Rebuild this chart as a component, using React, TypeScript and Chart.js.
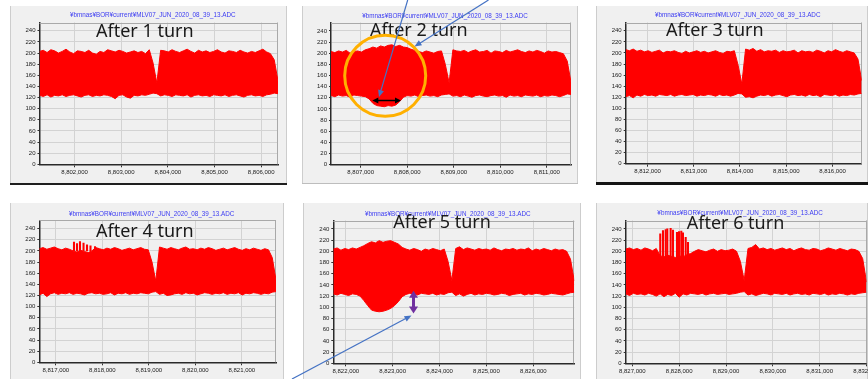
import React, { useEffect, useRef } from "react";
import { Chart, registerables } from "chart.js";

Chart.register(...registerables);

const FILE_TITLE = "¥bmnas¥BOR¥current¥MLV07_JUN_2020_08_39_13.ADC";
const TURN_LABELS = ["After 1 turn", "After 2 turn", "After 3 turn", "After 4 turn", "After 5 turn", "After 6 turn"];

// Sample-number window of each turn
const X_MIN = [8801250, 8806362, 8811529, 8816645, 8821733, 8826858];
const X_MAX = [8806360, 8811520, 8816631, 8821735, 8826874, 8832000];
const X_TICKS = [
  [8802000, 8803000, 8804000, 8805000, 8806000],
  [8807000, 8808000, 8809000, 8810000, 8811000],
  [8812000, 8813000, 8814000, 8815000, 8816000],
  [8817000, 8818000, 8819000, 8820000, 8821000],
  [8822000, 8823000, 8824000, 8825000, 8826000],
  [8827000, 8828000, 8829000, 8830000, 8831000, 8832000],
];
const Y_TICKS = [0, 20, 40, 60, 80, 100, 120, 140, 160, 180, 200, 220, 240];
const Y_MAX = 255;

// ADC counts: max / min of each of the 64 blocks that make up one turn
const turn1Max = [203, 205, 201, 206, 204, 200, 203, 207, 202, 199, 204, 203, 201, 205, 200, 198, 203, 201, 206, 204, 202, 205, 203, 200, 202, 204, 201, 203, 199, 206, 182, 146, 205, 204, 202, 206, 203, 201, 204, 207, 203, 200, 205, 202, 204, 201, 203, 206, 202, 200, 204, 203, 201, 205, 202, 200, 203, 201, 204, 207, 202, 199, 188, 150];
const turn1Min = [124, 122, 125, 121, 124, 123, 125, 122, 124, 125, 123, 121, 124, 125, 122, 124, 123, 125, 124, 122, 118, 124, 125, 121, 119, 124, 123, 125, 124, 126, 128, 127, 123, 125, 124, 122, 125, 124, 123, 125, 121, 124, 125, 123, 124, 122, 125, 124, 123, 125, 122, 124, 125, 123, 121, 124, 125, 123, 124, 122, 125, 126, 128, 127];

const turn2Max = [203, 201, 204, 202, 205, 200, 203, 204, 202, 206, 208, 211, 209, 213, 211, 214, 215, 212, 214, 211, 210, 207, 205, 203, 201, 204, 202, 200, 203, 204, 180, 147, 206, 204, 203, 205, 201, 204, 206, 202, 203, 205, 200, 204, 203, 201, 205, 202, 204, 206, 203, 201, 204, 202, 205, 203, 200, 204, 202, 203, 201, 199, 186, 148];
const turn2Min = [124, 122, 125, 123, 124, 121, 125, 124, 123, 122, 118, 110, 106, 105, 104, 106, 105, 107, 113, 121, 124, 123, 125, 122, 124, 125, 123, 124, 122, 125, 126, 127, 123, 124, 122, 125, 123, 121, 124, 125, 123, 122, 124, 125, 123, 124, 121, 125, 123, 124, 122, 125, 124, 123, 125, 122, 124, 123, 125, 124, 122, 124, 127, 126];

const turn3Max = [206, 204, 207, 203, 205, 202, 204, 201, 203, 205, 200, 203, 202, 204, 201, 199, 203, 200, 202, 204, 201, 203, 200, 202, 204, 201, 199, 203, 202, 204, 178, 144, 207, 205, 208, 203, 206, 202, 204, 203, 205, 201, 204, 202, 203, 205, 200, 204, 202, 203, 201, 205, 203, 200, 204, 202, 206, 203, 201, 204, 202, 200, 189, 150];
const turn3Min = [121, 123, 119, 124, 122, 125, 123, 124, 122, 125, 124, 123, 125, 122, 124, 125, 123, 124, 125, 122, 124, 123, 125, 124, 122, 125, 123, 124, 122, 124, 127, 126, 120, 121, 119, 122, 124, 123, 125, 122, 124, 125, 123, 121, 124, 125, 123, 124, 122, 125, 123, 124, 121, 125, 124, 123, 125, 122, 124, 123, 125, 124, 126, 127];

const turn4Max = [204, 206, 203, 205, 207, 204, 202, 205, 203, 200, 198, 201, 199, 197, 200, 206, 204, 202, 205, 203, 206, 204, 201, 203, 205, 202, 204, 206, 203, 202, 180, 146, 207, 205, 203, 206, 204, 202, 205, 207, 203, 204, 202, 205, 203, 206, 204, 201, 203, 205, 202, 204, 206, 203, 201, 204, 202, 205, 203, 201, 204, 202, 188, 148];
const turn4Min = [121, 124, 118, 123, 125, 122, 124, 123, 125, 122, 124, 123, 121, 124, 125, 123, 124, 122, 123, 125, 121, 124, 123, 125, 122, 124, 123, 125, 124, 123, 126, 127, 122, 124, 120, 121, 123, 124, 122, 125, 123, 124, 121, 123, 125, 124, 122, 124, 123, 125, 122, 124, 123, 125, 121, 124, 123, 125, 124, 122, 124, 123, 126, 127];

const turn5Max = [204, 206, 202, 205, 203, 206, 204, 207, 210, 214, 217, 215, 219, 216, 218, 219, 216, 213, 207, 204, 202, 205, 203, 200, 204, 202, 205, 203, 201, 204, 182, 148, 205, 208, 203, 206, 204, 202, 205, 203, 204, 202, 206, 203, 201, 204, 203, 205, 202, 204, 203, 206, 201, 204, 202, 205, 203, 201, 204, 202, 203, 200, 186, 147];
const turn5Min = [124, 122, 125, 123, 121, 124, 123, 120, 112, 103, 95, 93, 92, 93, 95, 98, 103, 110, 119, 123, 125, 124, 122, 125, 124, 123, 125, 122, 124, 123, 126, 127, 121, 124, 120, 123, 125, 122, 124, 123, 125, 124, 122, 123, 125, 124, 121, 123, 124, 125, 122, 124, 123, 125, 124, 122, 123, 125, 124, 123, 122, 124, 126, 127];

const turn6Max = [204, 206, 203, 205, 202, 206, 204, 201, 205, 192, 190, 193, 191, 189, 192, 190, 194, 196, 200, 203, 201, 199, 202, 204, 200, 203, 201, 202, 204, 200, 182, 148, 205, 207, 212, 204, 206, 203, 205, 202, 204, 206, 203, 205, 201, 204, 206, 203, 202, 205, 204, 201, 203, 206, 204, 202, 205, 203, 201, 204, 203, 200, 187, 145];
const turn6Min = [124, 121, 125, 123, 124, 122, 125, 123, 120, 124, 119, 123, 121, 125, 118, 124, 122, 125, 124, 123, 125, 122, 124, 125, 123, 124, 125, 123, 124, 125, 127, 128, 122, 124, 121, 123, 125, 124, 122, 125, 124, 123, 125, 122, 124, 125, 123, 124, 122, 125, 124, 123, 125, 122, 124, 123, 125, 124, 122, 124, 123, 125, 126, 127];

// Isolated tall excursions above the band
const turn4SpikeX = [8817391, 8817456, 8817520, 8817596, 8817671, 8817746, 8817843];
const turn4SpikeTop = [216, 213, 217, 214, 211, 209, 208];
const turn6SpikeX = [8827596, 8827654, 8827712, 8827746, 8827818, 8827868, 8827953, 8827996, 8828045, 8828081, 8828139, 8828188];
const turn6SpikeTop = [231, 237, 239, 240, 241, 238, 234, 235, 236, 233, 225, 216];
const SPIKE_BASE = [0, 0, 0, 200, 0, 186];

const TURN_MAX = [turn1Max, turn2Max, turn3Max, turn4Max, turn5Max, turn6Max];
const TURN_MIN = [turn1Min, turn2Min, turn3Min, turn4Min, turn5Min, turn6Min];
const TURN_SPIKE_X = [[], [], [], turn4SpikeX, [], turn6SpikeX];
const TURN_SPIKE_TOP = [[], [], [], turn4SpikeTop, [], turn6SpikeTop];

// ---- layout ----
const RED = "#ff0000";
const AXIS_W = 26;
const AXIS_H = 14;
const FONT = '"Liberation Sans", Arial, sans-serif';

type PanelBox = { left: number; top: number; width: number; height: number; plot: number[]; titleY: number };
const PANELS: PanelBox[] = [
  { left: 10, top: 6, width: 277, height: 177, plot: [39.5, 22.5, 278, 164.3], titleY: 15.7 },
  { left: 302, top: 6, width: 276, height: 177, plot: [331, 22.5, 571, 164.7], titleY: 16 },
  { left: 596, top: 6, width: 272, height: 176, plot: [625.7, 22.5, 861.7, 163.7], titleY: 15.7 },
  { left: 10, top: 203, width: 274, height: 176, plot: [39.3, 220.3, 276, 362.3], titleY: 214.3 },
  { left: 303, top: 203, width: 278, height: 176, plot: [333.3, 220.5, 574.3, 363.3], titleY: 214.3 },
  { left: 596, top: 203, width: 272, height: 176, plot: [625.7, 220.5, 866.5, 363.3], titleY: 213.3 },
];

const LABEL_POS = [
  [96, 37.3],
  [370, 35.7],
  [666, 35.7],
  [96, 237.3],
  [393.3, 228.3],
  [686.7, 229],
];

const plotFrame = {
  id: "plotFrame",
  beforeDatasetsDraw(chart: any) {
    const { ctx, chartArea: a } = chart;
    ctx.save();
    ctx.strokeStyle = "#a9a9a9";
    ctx.lineWidth = 1;
    ctx.beginPath();
    ctx.moveTo(a.left, Math.round(a.top) + 0.5);
    ctx.lineTo(a.right, Math.round(a.top) + 0.5);
    ctx.moveTo(Math.round(a.right) - 0.5, a.top);
    ctx.lineTo(Math.round(a.right) - 0.5, a.bottom);
    ctx.stroke();
    ctx.restore();
  },
};

const fileCaption = {
  id: "fileCaption",
  afterDraw(chart: any, _args: any, opts: any) {
    const { ctx, chartArea: a } = chart;
    ctx.save();
    ctx.font = `6.3px ${FONT}`;
    ctx.fillStyle = "#3b3bf2";
    ctx.textAlign = "center";
    ctx.textBaseline = "middle";
    ctx.fillText(FILE_TITLE, (a.left + a.right) / 2 - 6, opts.y);
    ctx.restore();
  },
};

function TurnPanel({ index }: { index: number }) {
  const ref = useRef<HTMLCanvasElement>(null);
  const p = PANELS[index];

  useEffect(() => {
    const [L, T, R, B] = p.plot;
    const hi = TURN_MAX[index];
    const lo = TURN_MIN[index];
    const x0 = X_MIN[index];
    const x1 = X_MAX[index];
    const blockX = hi.map((_, i) => x0 + (i * (x1 - x0)) / (hi.length - 1));
    const base = SPIKE_BASE[index];

    const datasets: any[] = [
      {
        type: "line",
        data: hi.map((v, i) => ({ x: blockX[i], y: v })),
        borderColor: RED,
        backgroundColor: RED,
        borderWidth: 1,
        pointRadius: 0,
        tension: 0,
        fill: "+1",
      },
      {
        type: "line",
        data: lo.map((v, i) => ({ x: blockX[i], y: v })),
        borderColor: RED,
        borderWidth: 1,
        pointRadius: 0,
        tension: 0,
        fill: false,
      },
    ];
    if (TURN_SPIKE_X[index].length) {
      datasets.push({
        type: "bar",
        data: TURN_SPIKE_X[index].map((x, k) => ({ x, y: [base, TURN_SPIKE_TOP[index][k]] })),
        backgroundColor: RED,
        borderWidth: 0,
        barThickness: 1.4,
        grouped: false,
      });
    }

    const tickFont = { family: FONT, size: 6 };
    const chart = new Chart(ref.current as HTMLCanvasElement, {
      type: "line",
      data: { datasets },
      options: {
        animation: false,
        responsive: false,
        events: [],
        layout: {
          padding: {
            left: L - p.left - AXIS_W,
            right: p.left + p.width - R,
            top: T - p.top,
            bottom: p.top + p.height - B - AXIS_H,
          },
        },
        plugins: {
          legend: { display: false },
          tooltip: { enabled: false },
          title: { display: false },
          fileCaption: { y: p.titleY - p.top },
        } as any,
        scales: {
          x: {
            type: "linear",
            min: x0,
            max: x1,
            offset: false,
            afterBuildTicks: (s: any) => {
              s.ticks = X_TICKS[index].map((v) => ({ value: v }));
            },
            afterFit: (s: any) => {
              s.height = AXIS_H;
              s.paddingLeft = 0;
              s.paddingRight = 0;
            },
            ticks: {
              font: tickFont,
              color: "#222",
              padding: 1,
              autoSkip: false,
              maxRotation: 0,
              minRotation: 0,
              callback: (v: any) => Number(v).toLocaleString("en-US"),
            },
            grid: { color: "#d3d3d3", lineWidth: 1, tickLength: 3, tickColor: "#333", offset: false },
            border: { color: "#2a2a2a", width: 1.5 },
          },
          y: {
            type: "linear",
            min: 0,
            max: Y_MAX,
            afterBuildTicks: (s: any) => {
              s.ticks = Y_TICKS.map((v) => ({ value: v }));
            },
            afterFit: (s: any) => {
              s.width = AXIS_W;
              s.paddingTop = 0;
              s.paddingBottom = 0;
            },
            ticks: { font: tickFont, color: "#222", padding: 2 },
            grid: { color: "#d3d3d3", lineWidth: 1, tickLength: 2, tickColor: "#333" },
            border: { color: "#2a2a2a", width: 1.5 },
          },
        },
      } as any,
      plugins: [plotFrame, fileCaption],
    });
    return () => chart.destroy();
  }, [index]);

  return (
    <div
      style={{
        position: "absolute",
        left: p.left,
        top: p.top,
        width: p.width,
        height: p.height,
        background: "#f0f0f0",
        boxShadow: "inset 1px 0 0 #cdcdcd, inset -1px 0 0 #cdcdcd",
      }}
    >
      <canvas ref={ref} width={p.width} height={p.height} style={{ display: "block", width: p.width, height: p.height }} />
    </div>
  );
}

function head(tx: number, ty: number, fx: number, fy: number, len: number, half: number) {
  const d = Math.hypot(tx - fx, ty - fy);
  const ux = (tx - fx) / d;
  const uy = (ty - fy) / d;
  const bx = tx - ux * len;
  const by = ty - uy * len;
  return {
    points: `${tx},${ty} ${bx - uy * half},${by + ux * half} ${bx + uy * half},${by - ux * half}`,
    bx: tx - ux * len * 0.7,
    by: ty - uy * len * 0.7,
  };
}

function Pointer({ x1, y1, x2, y2, color, width, len, half }: any) {
  const h = head(x2, y2, x1, y1, len, half);
  return (
    <g>
      <line x1={x1} y1={y1} x2={h.bx} y2={h.by} stroke={color} strokeWidth={width} />
      <polygon points={h.points} fill={color} />
    </g>
  );
}

function DoubleArrow({ x1, y1, x2, y2, color, width, len, half }: any) {
  const a = head(x1, y1, x2, y2, len, half);
  const b = head(x2, y2, x1, y1, len, half);
  return (
    <g>
      <line x1={a.bx} y1={a.by} x2={b.bx} y2={b.by} stroke={color} strokeWidth={width} />
      <polygon points={a.points} fill={color} />
      <polygon points={b.points} fill={color} />
    </g>
  );
}

function Annotations() {
  const blue = "#4472c4";
  return (
    <svg width={868} height={379} style={{ position: "absolute", left: 0, top: 0, pointerEvents: "none" }}>
      {TURN_LABELS.map((t, i) => (
        <text key={t} x={LABEL_POS[i][0]} y={LABEL_POS[i][1]} fontFamily='"Noto Sans", sans-serif' fontSize={18} fill="#1a1a1a">
          {t}
        </text>
      ))}
      <circle cx={385.2} cy={75.8} r={40.5} fill="none" stroke="#ffb000" strokeWidth={3} />
      <Pointer x1={407.7} y1={0} x2={379} y2={97} color={blue} width={1.2} len={7} half={3} />
      <Pointer x1={488.5} y1={0} x2={414.5} y2={46.5} color={blue} width={1.2} len={7} half={3} />
      <Pointer x1={292} y1={379} x2={411.5} y2={315.5} color={blue} width={1.2} len={7} half={3} />
      <DoubleArrow x1={372.3} y1={100.5} x2={401} y2={100.5} color="#000" width={1.5} len={6} half={3} />
      <DoubleArrow x1={413.5} y1={290.7} x2={413.5} y2={313.5} color="#7030a0" width={3} len={7} half={4.5} />
    </svg>
  );
}

export default function App() {
  return (
    <div style={{ position: "absolute", left: 0, top: 0, width: 868, height: 379, background: "#ffffff", overflow: "hidden" }}>
      {PANELS.map((_, i) => (
        <TurnPanel key={i} index={i} />
      ))}
      <div style={{ position: "absolute", left: 10, top: 182.5, width: 277, height: 2.5, background: "#1f1f1f" }} />
      <div style={{ position: "absolute", left: 302, top: 183, width: 276, height: 1, background: "#bdbdbd" }} />
      <div style={{ position: "absolute", left: 596, top: 182, width: 272, height: 3, background: "#151515" }} />
      <Annotations />
    </div>
  );
}
